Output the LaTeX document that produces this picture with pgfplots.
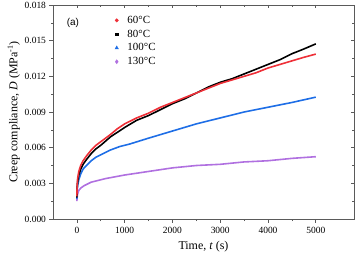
\documentclass[border=0pt]{standalone}
\usepackage{pgfplots}
\pgfplotsset{compat=1.18}
\usepackage{fontspec}
\setmainfont{Liberation Serif}
\newfontfamily\arialfont{Liberation Sans}
\definecolor{cred}{RGB}{238,48,56}
\definecolor{cblue}{RGB}{30,110,230}
\definecolor{cpurple}{RGB}{176,112,224}
\definecolor{axgray}{RGB}{90,90,90}
\begin{document}
\begin{tikzpicture}
\begin{axis}[
  name=ax,
  scale only axis,
  width=301bp, height=214bp,
  xmin=-500, xmax=5800, ymin=0, ymax=0.018,
  xtick={0,1000,2000,3000,4000,5000},
  ytick={0,0.003,0.006,0.009,0.012,0.015,0.018},
  minor x tick num=1, minor y tick num=1,
  tick align=outside,
  xtick pos=left, ytick pos=left,
  major tick length=3.5bp, minor tick length=2bp,
  axis line style={axgray, line width=0.8pt},
  every tick/.style={axgray, line width=0.6pt},
  scaled y ticks=false,
  /pgf/number format/assume math mode=true,
  /pgf/number format/1000 sep={},
  yticklabel style={/pgf/number format/.cd, fixed, fixed zerofill, precision=3},
  tick label style={font=\fontsize{9.5}{10}\selectfont},
  xticklabel style={yshift=-1bp},
  xlabel={Time, \textit{t} (s)},
  ylabel={Creep compliance, \textit{D} (MPa\textsuperscript{-1})},
  label style={font=\fontsize{12}{13}\selectfont},
  xlabel style={yshift=-1bp},
  ylabel style={yshift=-2bp},
  legend style={at={(0.177,0.968)}, anchor=north west, draw=none, fill=none,
    font=\fontsize{11}{12}\selectfont, row sep=1pt},
  legend image code/.code={\path (0cm,0cm) (0.55cm,0cm); \draw[#1] plot coordinates {(0.25cm,0cm)};},
  legend cell align=left,
]
\addlegendimage{only marks, mark=*, mark size=1.7pt, cred}
\addlegendentry{60°C}
\addlegendimage{only marks, mark=square*, mark size=1.3pt, black}
\addlegendentry{80°C}
\addlegendimage{only marks, mark=triangle*, mark size=2pt, cblue}
\addlegendentry{100°C}
\addlegendimage{only marks, mark=diamond*, mark size=2pt, cpurple}
\addlegendentry{130°C}

\addplot[forget plot, cpurple, line width=1.6pt] coordinates {
(0,0.0015)(5,0.0018)(15,0.0021)(40,0.0024)(80,0.0026)(150,0.0028)(300,0.0031)(600,0.0034)(1000,0.0037)(1500,0.0040)(2000,0.0043)(2500,0.0045)(3000,0.0046)(3500,0.0048)(4000,0.0049)(4500,0.0051)(5000,0.00524)};
\addplot[forget plot, cblue, line width=1.6pt] coordinates {
(0,0.0017)(5,0.0023)(15,0.0028)(40,0.0033)(80,0.0038)(130,0.0042)(200,0.0045)(300,0.0049)(400,0.0052)(550,0.0055)(700,0.0058)(900,0.0061)(1100,0.0063)(1500,0.0068)(2000,0.0074)(2500,0.0080)(3000,0.0085)(3500,0.0090)(4000,0.0094)(4500,0.0098)(5000,0.01025)};
\addplot[forget plot, black, line width=1.6pt] coordinates {
(0,0.0018)(5,0.0026)(15,0.0031)(40,0.0037)(80,0.0042)(130,0.0046)(200,0.0050)(300,0.0055)(400,0.0059)(500,0.0062)(700,0.0069)(850,0.0073)(1000,0.0077)(1250,0.0083)(1500,0.0087)(1750,0.0092)(2000,0.0097)(2250,0.0101)(2500,0.0106)(2750,0.0111)(3000,0.0115)(3250,0.0118)(3500,0.0122)(3750,0.0126)(4000,0.0130)(4250,0.0134)(4500,0.0139)(4750,0.0143)(5000,0.01473)};
\addplot[forget plot, cred, line width=1.6pt] coordinates {
(0,0.0019)(5,0.0028)(15,0.0034)(40,0.0040)(80,0.0045)(130,0.0049)(200,0.0053)(300,0.0058)(400,0.0062)(500,0.0065)(700,0.0071)(850,0.0076)(1000,0.0080)(1250,0.0085)(1500,0.0089)(1750,0.0094)(2000,0.0098)(2250,0.0102)(2500,0.0106)(2750,0.0110)(3000,0.0114)(3250,0.0117)(3500,0.0120)(3750,0.0123)(4000,0.0127)(4250,0.0130)(4500,0.0133)(4750,0.0136)(5000,0.01387)};
\node[font=\arialfont\fontsize{10}{11}\selectfont] at (rel axis cs:0.066,0.914) {(a)};
\end{axis}
\begin{axis}[
  scale only axis,
  width=301bp, height=214bp,
  xmin=-500, xmax=5800, ymin=0, ymax=0.018,
  xtick={0,1000,2000,3000,4000,5000},
  ytick={0,0.003,0.006,0.009,0.012,0.015,0.018},
  minor x tick num=1, minor y tick num=1,
  tick align=inside,
  xtick pos=right, ytick pos=right,
  major tick length=3.5bp, minor tick length=2bp,
  axis line style={draw=none},
  every tick/.style={axgray, line width=0.6pt},
  xticklabels={}, yticklabels={},
  scaled y ticks=false,
]
\end{axis}
\pgfresetboundingbox
\path ([xshift=-53bp,yshift=-41bp]ax.south west) rectangle ([xshift=3bp,yshift=5bp]ax.north east);
\end{tikzpicture}
\end{document}
